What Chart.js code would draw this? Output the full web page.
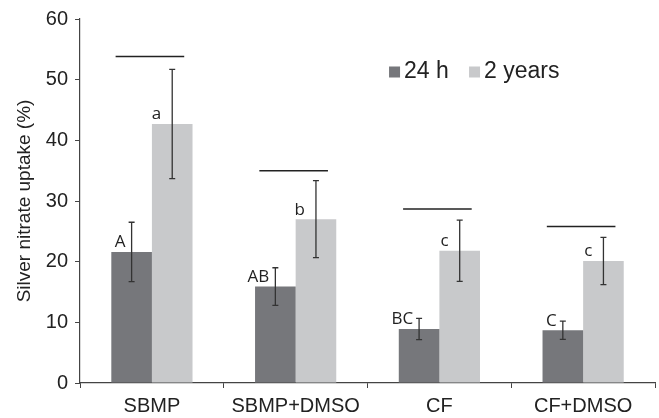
<!DOCTYPE html>
<html>
<head>
<meta charset="utf-8">
<script src="https://cdn.jsdelivr.net/npm/chart.js@4/dist/chart.umd.min.js"></script>
<style>
  html, body { margin: 0; padding: 0; background: #fff; }
  #wrap { width: 659px; height: 418px; }
</style>
</head>
<body>
<div id="wrap"><canvas id="uptakeChart"></canvas></div>
<script>
// categorias e valores
const categories = ['SBMP', 'SBMP+DMSO', 'CF', 'CF+DMSO'];
const seriesNames = ['24 h', '2 years'];
const uptake24h = [21.6, 15.9, 8.9, 8.7];
const err24h = [4.9, 3.1, 1.75, 1.5];
const uptake2y = [42.7, 27.0, 21.8, 20.1];
const err2y = [9.0, 6.35, 5.05, 3.9];
const letters24h = ['A', 'AB', 'BC', 'C'];
const letters2y = ['a', 'b', 'c', 'c'];
const sigLines = [53.8, 35.0, 28.7, 25.8];
const yTicks = [0, 10, 20, 30, 40, 50, 60];

const errors = [err24h, err2y];
const letters = [letters24h, letters2y];

// barras de erro, letras e linhas acima dos pares
const extras = {
    id: 'extras',
    afterDatasetsDraw(chart) {
        const ctx = chart.ctx;
        const y = chart.scales.y;
        ctx.save();
        chart.data.datasets.forEach((ds, di) => {
            const meta = chart.getDatasetMeta(di);
            meta.data.forEach((bar, i) => {
                const v = ds.data[i];
                const e = errors[di][i];
                const top = y.getPixelForValue(v + e);
                const bot = y.getPixelForValue(v - e);
                ctx.strokeStyle = '#333';
                ctx.lineWidth = 1.3;
                ctx.beginPath();
                ctx.moveTo(bar.x, top); ctx.lineTo(bar.x, bot);
                ctx.moveTo(bar.x - 3, top); ctx.lineTo(bar.x + 3, top);
                ctx.moveTo(bar.x - 3, bot); ctx.lineTo(bar.x + 3, bot);
                ctx.stroke();

                ctx.fillStyle = '#222';
                ctx.font = '17px "Open Sans"';
                ctx.textAlign = 'right';
                ctx.textBaseline = 'bottom';
                const off = di === 0 ? 6 : 11;
                ctx.fillText(letters[di][i], bar.x - off, bar.y - 1);
            });
        });
        const m0 = chart.getDatasetMeta(0).data;
        const m1 = chart.getDatasetMeta(1).data;
        ctx.strokeStyle = '#222';
        ctx.lineWidth = 1.5;
        sigLines.forEach((v, i) => {
            const py = y.getPixelForValue(v);
            ctx.beginPath();
            ctx.moveTo(m0[i].x - 16, py);
            ctx.lineTo(m1[i].x + 12, py);
            ctx.stroke();
        });
        ctx.restore();
    },
    afterDraw(chart) {
        const ctx = chart.ctx;
        const area = chart.chartArea;
        let x = area.left + 309;
        const cy = area.top + 53;
        ctx.save();
        ctx.font = '23px "Liberation Sans"';
        ctx.textBaseline = 'middle';
        ctx.textAlign = 'left';
        chart.data.datasets.forEach((ds) => {
            ctx.fillStyle = ds.backgroundColor;
            ctx.fillRect(x, cy - 5.5, 11, 11);
            ctx.fillStyle = '#222';
            ctx.fillText(ds.label, x + 15, cy);
            x += 80;
        });
        ctx.restore();
    }
};

const ctx = document.getElementById('uptakeChart').getContext('2d');
const uptakeChart = new Chart(ctx, {
    type: 'bar',
    data: {
        labels: categories,
        datasets: [
            { label: seriesNames[0], data: uptake24h, backgroundColor: '#76777b' },
            { label: seriesNames[1], data: uptake2y, backgroundColor: '#c8c9cb' }
        ]
    },
    options: {
        responsive: true,
        maintainAspectRatio: false,
        animation: false,
        categoryPercentage: 0.565,
        barPercentage: 1,
        layout: { padding: { top: 19, right: 4, left: 13, bottom: -6 } },
        plugins: {
            legend: { display: false },
            tooltip: { enabled: false }
        },
        scales: {
            x: {
                grid: { drawOnChartArea: false, tickLength: 5, color: '#444' },
                border: { color: '#444', width: 1.2 },
                ticks: { color: '#222', font: { family: 'Liberation Sans', size: 20 }, padding: 6 }
            },
            y: {
                min: 0,
                max: 60,
                afterBuildTicks(scale) { scale.ticks = yTicks.map(v => ({ value: v })); },
                grid: { drawOnChartArea: false, tickLength: 5, color: '#444' },
                border: { color: '#444', width: 1.2 },
                ticks: { color: '#222', font: { family: 'Liberation Sans', size: 20 }, padding: 7 },
                title: {
                    display: true,
                    text: 'Silver nitrate uptake (%)',
                    color: '#222',
                    font: { family: 'Liberation Sans', size: 19 },
                    padding: { top: 0, bottom: 3 }
                }
            }
        }
    },
    plugins: [extras]
});
</script>
</body>
</html>
